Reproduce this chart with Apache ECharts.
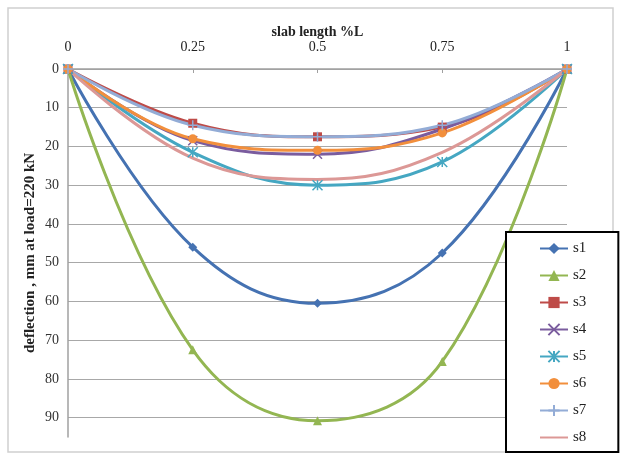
<!DOCTYPE html>
<html lang="en">
<head>
    <meta charset="UTF-8">
    <title>slab deflection</title>
    <script src="https://cdn.jsdelivr.net/npm/echarts@6/dist/echarts.min.js"></script>
    <style>
        *{
            padding:0;
            margin:0;
        }
        html,body{
            height:100%;
            background:#fff;
        }
        #main{
            width:621px;
            height:460px;
        }
    </style>
</head>
<body>
<div id="main"></div>
<script>
    // positions along the slab (fraction of L)
    var positions = [0, 0.25, 0.5, 0.75, 1];
    var names = ['s1', 's2', 's3', 's4', 's5', 's6', 's7', 's8'];
    // deflection, mm at load=220 kN
    var s1 = [0, 46, 60.5, 47.5, 0];
    var s2 = [0, 72.5, 90.8, 75.5, 0];
    var s3 = [0, 14, 17.5, 15, 0];
    var s4 = [0, 18.5, 22, 15.5, 0];
    var s5 = [0, 21.5, 30, 24, 0];
    var s6 = [0, 18, 21, 16.5, 0];
    var s7 = [0, 14.5, 17.5, 14.5, 0];
    var s8 = [0, 23, 28.5, 21.5, 0];
    var xTicks = [0, 0.25, 0.5, 0.75, 1];

    var colors = ['#4572b2', '#93b652', '#be4b48', '#7a5c9e', '#45a7c2', '#f28f3c', '#93acd6', '#dc9896'];
    var symbols = [
        'diamond',
        'triangle',
        'rect',
        'path://M0,0 L10,10 M10,0 L0,10',
        'path://M0,0 L10,10 M10,0 L0,10 M5,0 L5,10',
        'circle',
        'path://M5,0 L5,10 M0,5 L10,5',
        'none'
    ];
    var sizes = [9, 9, 9, 9, 10, 9, 10, 0];
    var allData = [s1, s2, s3, s4, s5, s6, s7, s8];

    var font = 'Liberation Serif';
    var myChart = echarts.init(document.getElementById('main'));

    var series = names.map(function (n, i) {
        var lineSym = i === 3 || i === 4 || i === 6;
        return {
            name: n,
            type: 'line',
            smooth: 0.4,
            data: positions.map(function (p, j) { return [p, allData[i][j]]; }),
            symbol: symbols[i],
            symbolSize: sizes[i],
            showSymbol: i !== 7,
            lineStyle: {color: colors[i], width: 3},
            itemStyle: {
                color: lineSym ? 'rgba(0,0,0,0)' : colors[i],
                borderColor: colors[i],
                borderWidth: lineSym ? 1.5 : 0
            },
            emphasis: {disabled: true}
        };
    });

    var legendData = names.map(function (n, i) {
        if (i === 7) {
            return {name: n, itemStyle: {opacity: 0}};
        }
        return {name: n};
    });

    option = {
        animation: false,
        color: colors,
        graphic: [{
            type: 'rect',
            shape: {x: 8, y: 8, width: 605, height: 444},
            style: {fill: 'none', stroke: '#d0d0d0', lineWidth: 1.5},
            z: -1
        }],
        grid: {
            left: 68,
            right: 54,
            top: 69,
            bottom: 23
        },
        legend: {
            orient: 'vertical',
            left: 506,
            top: 232,
            padding: [9, 32, 7, 33],
            itemGap: 12,
            itemWidth: 28,
            itemHeight: 14,
            borderColor: '#000',
            borderWidth: 2,
            backgroundColor: '#fff',
            textStyle: {fontFamily: font, fontSize: 15, color: '#222'},
            data: legendData
        },
        xAxis: {
            type: 'value',
            position: 'top',
            min: 0,
            max: 1,
            interval: 0.25,
            name: 'slab length %L',
            nameLocation: 'middle',
            nameGap: 30,
            nameMoveOverlap: false,
            nameTextStyle: {fontFamily: font, fontSize: 14, fontWeight: 'bold', color: '#222'},
            axisLine: {onZero: false, lineStyle: {color: '#a0a0a0', width: 1.5}},
            axisTick: {show: true, inside: true, length: 4, lineStyle: {color: '#a0a0a0'}},
            axisLabel: {
                fontFamily: font, fontSize: 14, color: '#222', margin: 15,
                formatter: function (v) { return xTicks.indexOf(v) >= 0 ? String(v) : ''; }
            },
            splitLine: {show: false}
        },
        yAxis: {
            type: 'value',
            inverse: true,
            min: 0,
            max: 95,
            interval: 10,
            name: 'deflection , mm at load=220 kN',
            nameLocation: 'middle',
            nameGap: 30,
            nameMoveOverlap: false,
            nameTextStyle: {fontFamily: font, fontSize: 15, fontWeight: 'bold', color: '#222'},
            axisLine: {show: true, lineStyle: {color: '#a0a0a0', width: 1.5}},
            axisTick: {show: false},
            axisLabel: {fontFamily: font, fontSize: 14, color: '#333', margin: 9, showMaxLabel: false},
            splitLine: {show: true, showMaxLine: false, lineStyle: {color: '#a8a8a8', width: 1.2}}
        },
        series: series
    };
    myChart.setOption(option);
</script>
</body>
</html>
